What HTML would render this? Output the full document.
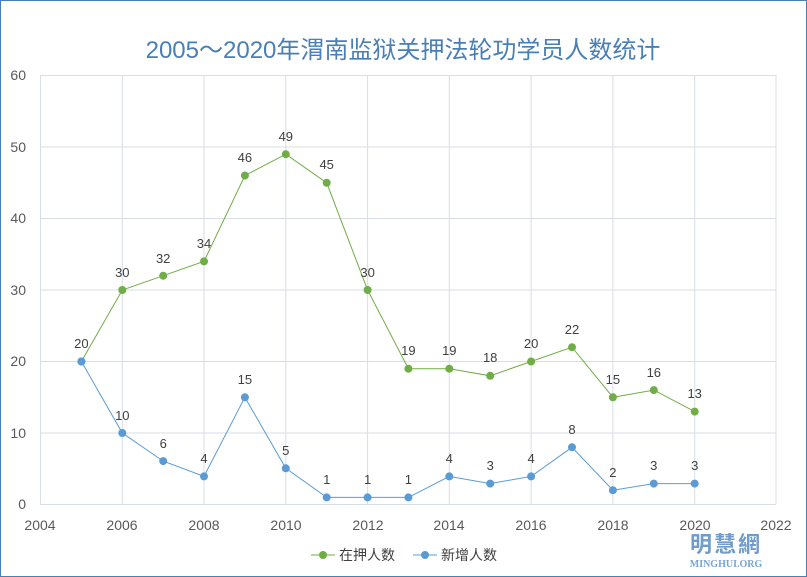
<!DOCTYPE html>
<html><head><meta charset="utf-8"><style>
html,body{margin:0;padding:0;background:#fff}
svg{display:block;font-family:"Liberation Sans","Noto Sans CJK SC",sans-serif}
</style></head><body>
<svg width="807" height="577" viewBox="0 0 807 577" xmlns="http://www.w3.org/2000/svg">
<rect x="0.5" y="0.5" width="806" height="576" fill="#fff" stroke="#4a7fb5" stroke-width="1"/>
<text x="403" y="58" text-anchor="middle" font-size="24" fill="#4a7fb5">2005～2020年渭南监狱关押法轮功学员人数统计</text>
<g stroke="#d9dde6" stroke-width="1">
<line x1="40" y1="75.5" x2="776" y2="75.5"/>
<line x1="40" y1="147" x2="776" y2="147"/>
<line x1="40" y1="218.5" x2="776" y2="218.5"/>
<line x1="40" y1="290" x2="776" y2="290"/>
<line x1="40" y1="361.5" x2="776" y2="361.5"/>
<line x1="40" y1="433" x2="776" y2="433"/>
<line x1="40" y1="504.5" x2="776" y2="504.5"/>
<line x1="40.5" y1="75" x2="40.5" y2="504"/>
<line x1="122.3" y1="75" x2="122.3" y2="504"/>
<line x1="204" y1="75" x2="204" y2="504"/>
<line x1="285.8" y1="75" x2="285.8" y2="504"/>
<line x1="367.6" y1="75" x2="367.6" y2="504"/>
<line x1="449.3" y1="75" x2="449.3" y2="504"/>
<line x1="531.1" y1="75" x2="531.1" y2="504"/>
<line x1="612.9" y1="75" x2="612.9" y2="504"/>
<line x1="694.7" y1="75" x2="694.7" y2="504"/>
<line x1="776" y1="75" x2="776" y2="504"/>
</g>
<g font-size="14" fill="#595959" text-anchor="end">
<text x="26" y="80">60</text><text x="26" y="152">50</text><text x="26" y="223">40</text><text x="26" y="295">30</text><text x="26" y="366">20</text><text x="26" y="438">10</text><text x="26" y="509">0</text>
</g>
<g font-size="14" fill="#595959" text-anchor="middle">
<text x="40" y="530">2004</text><text x="122" y="530">2006</text><text x="204" y="530">2008</text><text x="286" y="530">2010</text><text x="368" y="530">2012</text><text x="449" y="530">2014</text><text x="531" y="530">2016</text><text x="613" y="530">2018</text><text x="695" y="530">2020</text><text x="776" y="530">2022</text>
</g>
<polyline fill="none" stroke="#70ad47" stroke-width="1" points="81.4,361.5 122.3,290 163.2,275.7 204,261.4 244.9,175.6 285.8,154.2 326.7,182.8 367.6,290 408.4,368.7 449.3,368.7 490.2,375.8 531.1,361.5 572,347.2 612.9,397.3 653.8,390.1 694.7,411.6"/>
<g fill="#70ad47">
<circle cx="81.4" cy="361.5" r="4"/><circle cx="122.3" cy="290" r="4"/><circle cx="163.2" cy="275.7" r="4"/><circle cx="204" cy="261.4" r="4"/><circle cx="244.9" cy="175.6" r="4"/><circle cx="285.8" cy="154.2" r="4"/><circle cx="326.7" cy="182.8" r="4"/><circle cx="367.6" cy="290" r="4"/><circle cx="408.4" cy="368.7" r="4"/><circle cx="449.3" cy="368.7" r="4"/><circle cx="490.2" cy="375.8" r="4"/><circle cx="531.1" cy="361.5" r="4"/><circle cx="572" cy="347.2" r="4"/><circle cx="612.9" cy="397.3" r="4"/><circle cx="653.8" cy="390.1" r="4"/><circle cx="694.7" cy="411.6" r="4"/>
</g>
<polyline fill="none" stroke="#5b9bd5" stroke-width="1" points="81.4,361.5 122.3,433 163.2,461.1 204,476.4 244.9,397.3 285.8,468.3 326.7,497.4 367.6,497.4 408.4,497.4 449.3,476.4 490.2,483.6 531.1,476.4 572,447.3 612.9,490.2 653.8,483.6 694.7,483.6"/>
<g fill="#5b9bd5">
<circle cx="81.4" cy="361.5" r="4"/><circle cx="122.3" cy="433" r="4"/><circle cx="163.2" cy="461.1" r="4"/><circle cx="204" cy="476.4" r="4"/><circle cx="244.9" cy="397.3" r="4"/><circle cx="285.8" cy="468.3" r="4"/><circle cx="326.7" cy="497.4" r="4"/><circle cx="367.6" cy="497.4" r="4"/><circle cx="408.4" cy="497.4" r="4"/><circle cx="449.3" cy="476.4" r="4"/><circle cx="490.2" cy="483.6" r="4"/><circle cx="531.1" cy="476.4" r="4"/><circle cx="572" cy="447.3" r="4"/><circle cx="612.9" cy="490.2" r="4"/><circle cx="653.8" cy="483.6" r="4"/><circle cx="694.7" cy="483.6" r="4"/>
</g>
<g font-size="13" fill="#404040" text-anchor="middle">
<text x="81.4" y="348">20</text><text x="122.3" y="277">30</text><text x="163.2" y="263">32</text><text x="204" y="248">34</text><text x="244.9" y="162">46</text><text x="285.8" y="141">49</text><text x="326.7" y="169">45</text><text x="367.6" y="277">30</text><text x="408.4" y="355">19</text><text x="449.3" y="355">19</text><text x="490.2" y="362">18</text><text x="531.1" y="348">20</text><text x="572" y="334">22</text><text x="612.9" y="384">15</text><text x="653.8" y="377">16</text><text x="694.7" y="398">13</text>
<text x="122.3" y="420">10</text><text x="163.2" y="448">6</text><text x="204" y="463">4</text><text x="244.9" y="384">15</text><text x="285.8" y="455">5</text><text x="326.7" y="484">1</text><text x="367.6" y="484">1</text><text x="408.4" y="484">1</text><text x="449.3" y="463">4</text><text x="490.2" y="470">3</text><text x="531.1" y="463">4</text><text x="572" y="434">8</text><text x="612.9" y="477">2</text><text x="653.8" y="470">3</text><text x="694.7" y="470">3</text>
</g>
<line x1="311" y1="555" x2="335" y2="555" stroke="#70ad47"/><circle cx="323" cy="555" r="4" fill="#70ad47"/>
<text x="339" y="560" font-size="14" fill="#404040">在押人数</text>
<line x1="413" y1="555" x2="437" y2="555" stroke="#5b9bd5"/><circle cx="425" cy="555" r="4" fill="#5b9bd5"/>
<text x="441" y="560" font-size="14" fill="#404040">新增人数</text>
<text x="726" y="552" text-anchor="middle" font-size="22" font-weight="bold" fill="#6f9ccb" letter-spacing="2">明慧網</text>
<text x="726" y="567" text-anchor="middle" font-size="10" font-family="Liberation Serif,serif" font-weight="bold" fill="#7aa5d2">MINGHUI.ORG</text>
</svg>
</body></html>
